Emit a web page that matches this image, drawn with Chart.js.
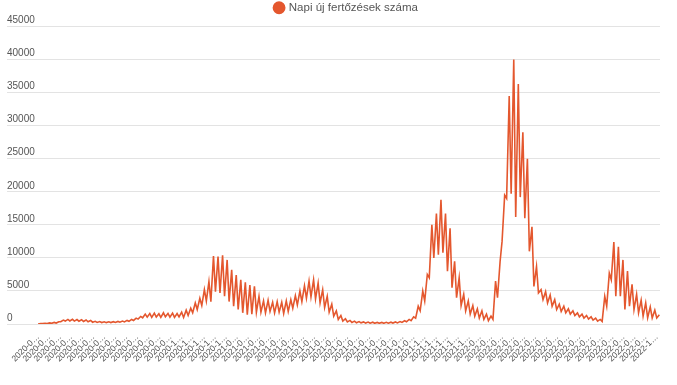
<!DOCTYPE html>
<html>
<head>
<meta charset="utf-8">
<script src="https://cdn.jsdelivr.net/npm/chart.js@4.4.1/dist/chart.umd.min.js"></script>
<style>
html,body{margin:0;padding:0;background:#fff;}
#wrap{width:677px;height:385px;position:relative;}
</style>
</head>
<body>
<div id="wrap"><canvas id="c"></canvas></div>
<script>
// Series name
const seriesName = 'Napi új fertőzések száma';
// First day of the series
const startDate = '2020-03-01';
// Weekly low (start of week) and weekly high (mid-week) daily case counts, week by week
const weeklyLow = [
  20, 60, 90, 110, 150,
  350, 450, 470, 450, 430, 400, 350,
  280, 250, 230, 220, 230, 250, 280,
  330, 420, 550, 750,
  950, 1050, 1000, 1050, 1000, 1100, 1050, 1000, 1100,
  1000, 1300, 1700, 2200, 2800, 3500,
  3400, 4900, 4700, 4200, 3400, 2700, 2200, 1700, 1400, 1500, 1800,
  1800, 1700, 1900, 1700, 1800, 1600, 1900,
  2400, 2900, 3400, 3900, 4100, 3800, 3200, 2500, 1800, 1200, 700, 450, 320,
  250, 200, 180, 150, 130, 120, 120, 120, 130, 150, 180,
  250, 350, 500,
  900, 2000, 3500, 7000, 10000, 10500, 10800, 8000, 5500, 4000, 2800, 2000, 1500, 1200, 900, 700, 500,
  700, 4000, 12500, 19000, 19700, 16200, 19200, 16000, 11000, 5700,
  4700, 3700, 3200, 2700, 2200, 1900, 1700, 1500, 1300, 1100, 900, 750, 600, 450,
  400, 2700, 6700, 4200, 4200, 2200, 2700, 2200, 1700, 1200, 930, 930, 930
];
const weeklyHigh = [
  60, 120, 180, 250, 350,
  600, 700, 720, 680, 650, 620, 550,
  420, 380, 350, 340, 360, 400, 450,
  550, 700, 900, 1150,
  1500, 1600, 1650, 1550, 1700, 1600, 1650, 1600, 1800,
  2100, 2400, 3200, 3900, 5200, 6400,
  10300, 10200, 10400, 9700, 8200, 7400, 6700, 6300, 5900, 5700, 4200,
  3500, 3600, 3300, 3400, 3300, 3500, 3700,
  4300, 5000, 5800, 6500, 6700, 6200, 5200, 4200, 3000, 2000, 1300, 800, 550,
  450, 380, 330, 300, 280, 250, 250, 260, 280, 320, 380,
  500, 700, 1100,
  2700, 5000, 7500, 15000, 16700, 18800, 16700, 14500, 9500, 7000, 4500, 3500, 2800, 2300, 2000, 1500, 1200,
  6500, 9500, 19500, 34500, 40000, 36300, 29000, 25000, 14700, 8700,
  5200, 4900, 4400, 3700, 3000, 2700, 2300, 2000, 1700, 1500, 1300, 1100, 900, 700,
  4200, 7700, 12400, 11700, 9700, 8000, 6000, 4500, 3600, 3200, 2600, 2100, 1400
];
// Y-axis tick values
const yTicks = [0, 5000, 10000, 15000, 20000, 25000, 30000, 35000, 40000, 45000];
// X-axis tick labels: every 17th day from the start date
const tickStep = 17;
const tickCount = 57;
const tickLabels = [];
for (let k = 0; k < tickCount; k++) {
  const d = new Date(startDate + 'T00:00:00Z');
  d.setUTCDate(d.getUTCDate() + k * tickStep);
  tickLabels.push(d.toISOString().slice(0, 10));
}
const lastDay = 957;

// Build the point list from the weekly arrays (low on day 0 of a week, high on day 4)
const points = [];
for (let w = 0; w < weeklyLow.length; w++) {
  points.push({x: w * 7, y: weeklyLow[w]});
  points.push({x: w * 7 + 4, y: weeklyHigh[w]});
}

const lineColor = '#e4572e';
const fam = "'Liberation Sans', Arial, sans-serif";

const shiftLegend = {
  id: 'shiftLegend',
  afterLayout(chart) {
    const lg = chart.legend;
    lg.left += 13; lg.right += 13;
    lg.top -= 3; lg.bottom -= 3;
  }
};

new Chart(document.getElementById('c'), {
  type: 'line',
  data: {
    datasets: [{
      label: seriesName,
      data: points,
      borderColor: lineColor,
      backgroundColor: lineColor,
      borderWidth: 1.6,
      pointRadius: 0,
      pointHoverRadius: 0,
      tension: 0,
      fill: false
    }]
  },
  options: {
    responsive: true,
    maintainAspectRatio: false,
    animation: false,
    layout: {padding: {left: 7, right: 17, top: 0, bottom: 13}},
    plugins: {
      legend: {
        position: 'top',
        labels: {
          usePointStyle: true,
          pointStyle: 'circle',
          boxWidth: 8,
          boxHeight: 8,
          padding: 5,
          color: '#555',
          font: {family: fam, size: 11.5}
        }
      },
      tooltip: {enabled: false}
    },
    scales: {
      x: {
        type: 'linear',
        min: 0,
        max: lastDay,
        grid: {display: false, drawTicks: false},
        border: {display: false},
        afterBuildTicks(scale) {
          scale.ticks = tickLabels.map((t, i) => ({value: i * tickStep}));
        },
        ticks: {
          autoSkip: false,
          maxRotation: 45,
          minRotation: 45,
          padding: 8,
          color: '#4a4a4a',
          font: {family: fam, size: 8.5},
          callback(value, index) {
            return tickLabels[index].slice(0, 6) + '…';
          }
        }
      },
      y: {
        min: 0,
        max: 45000,
        afterBuildTicks(scale) {
          scale.ticks = yTicks.map(v => ({value: v}));
        },
        afterFit(scale) { scale.width = 31; },
        grid: {color: '#e3e3e3', lineWidth: 1, tickLength: 31, drawTicks: true},
        border: {display: false},
        ticks: {
          crossAlign: 'far',
          labelOffset: -6,
          padding: 0,
          color: '#555',
          font: {family: fam, size: 10},
          callback(value) { return String(value); }
        }
      }
    }
  },
  plugins: [shiftLegend]
});
</script>
</body>
</html>
